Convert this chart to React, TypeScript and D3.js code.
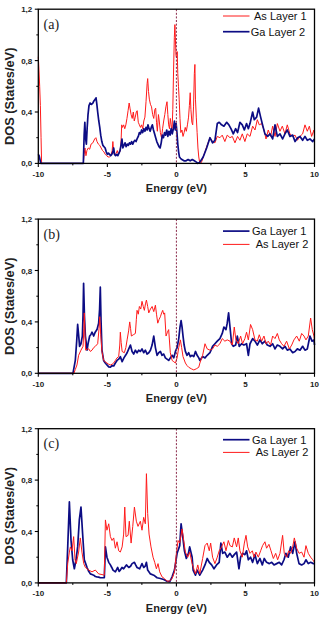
import React from "react";
import * as d3 from "d3";

type Pt = [number, number];

// ---- Panel (a) ----
const aAsLayer1: Pt[] = [
  [-10,0.83],[-9.96,0.75],[-9.9,0.6],[-9.85,0.45],[-9.8,0.2],[-9.76,0],[-6.74,0],[-6.68,0.07],[-6.62,0.12],[-6.55,0.06],[-6.48,0.1],[-6.38,0.12],[-6.28,0.11],[-6.18,0.15],[-6.05,0.16],[-5.92,0.19],[-5.83,0.2],[-5.75,0.17],[-5.65,0.15],[-5.55,0.14],[-5.45,0.12],[-5.35,0.1],[-5.25,0.09],[-5.15,0.07],[-5.05,0.06],[-4.95,0.05],[-4.85,0.05],[-4.75,0.06],[-4.65,0.1],[-4.6,0.17],[-4.54,0.08],[-4.45,0.07],[-4.35,0.08],[-4.28,0.1],[-4.2,0.07],[-4.1,0.09],[-4.02,0.14],[-3.96,0.3],[-3.9,0.28],[-3.82,0.3],[-3.74,0.27],[-3.66,0.3],[-3.58,0.35],[-3.5,0.41],[-3.42,0.47],[-3.36,0.43],[-3.28,0.38],[-3.2,0.35],[-3.12,0.4],[-3.05,0.33],[-2.98,0.36],[-2.9,0.4],[-2.84,0.41],[-2.76,0.32],[-2.68,0.3],[-2.6,0.28],[-2.52,0.3],[-2.44,0.27],[-2.36,0.33],[-2.28,0.36],[-2.2,0.48],[-2.12,0.62],[-2.08,0.66],[-2.02,0.56],[-1.96,0.5],[-1.88,0.46],[-1.8,0.44],[-1.72,0.38],[-1.64,0.35],[-1.56,0.42],[-1.5,0.43],[-1.44,0.32],[-1.38,0.25],[-1.3,0.38],[-1.24,0.33],[-1.16,0.24],[-1.08,0.2],[-1.0,0.27],[-0.92,0.33],[-0.84,0.38],[-0.76,0.44],[-0.68,0.48],[-0.62,0.38],[-0.56,0.3],[-0.5,0.27],[-0.44,0.35],[-0.38,0.3],[-0.32,0.24],[-0.26,0.42],[-0.2,0.75],[-0.15,0.98],[-0.11,1.08],[-0.07,0.96],[-0.03,0.84],[0.02,0.82],[0.06,0.87],[0.1,0.7],[0.15,0.6],[0.2,0.5],[0.26,0.35],[0.32,0.24],[0.4,0.26],[0.48,0.21],[0.56,0.24],[0.64,0.28],[0.72,0.25],[0.8,0.3],[0.88,0.36],[0.94,0.45],[1.0,0.55],[1.05,0.42],[1.12,0.32],[1.18,0.3],[1.24,0.44],[1.3,0.7],[1.34,0.77],[1.38,0.5],[1.44,0.36],[1.5,0.24],[1.56,0.12],[1.62,0.05],[1.68,0.01],[1.76,0.0],[1.86,0.02],[1.94,0.05],[2.07,0.09],[2.19,0.13],[2.43,0.2],[2.62,0.17],[2.79,0.16],[2.96,0.21],[3.15,0.2],[3.32,0.22],[3.51,0.17],[3.68,0.22],[3.88,0.2],[4.05,0.21],[4.24,0.16],[4.43,0.21],[4.6,0.18],[4.77,0.23],[4.96,0.17],[5.13,0.23],[5.33,0.21],[5.52,0.29],[5.69,0.26],[5.86,0.34],[6.0,0.3],[6.17,0.31],[6.34,0.26],[6.49,0.19],[6.65,0.26],[6.82,0.21],[6.97,0.29],[7.14,0.21],[7.31,0.31],[7.5,0.25],[7.67,0.29],[7.86,0.23],[8.03,0.3],[8.22,0.23],[8.42,0.21],[8.59,0.22],[8.76,0.18],[8.95,0.21],[9.14,0.23],[9.31,0.3],[9.48,0.25],[9.63,0.29],[9.79,0.21],[9.96,0.26],[10,0.21],
];
const aGaLayer2: Pt[] = [
  [-10,0.07],[-9.94,0.06],[-9.88,0.03],[-9.82,0.0],[-6.74,0],[-6.68,0.22],[-6.63,0.32],[-6.58,0.2],[-6.52,0.15],[-6.46,0.28],[-6.4,0.38],[-6.33,0.45],[-6.25,0.47],[-6.15,0.46],[-6.05,0.47],[-5.95,0.49],[-5.87,0.5],[-5.82,0.51],[-5.76,0.46],[-5.7,0.4],[-5.62,0.33],[-5.55,0.28],[-5.48,0.22],[-5.4,0.17],[-5.32,0.14],[-5.24,0.13],[-5.16,0.12],[-5.08,0.09],[-5.0,0.07],[-4.92,0.08],[-4.84,0.07],[-4.76,0.06],[-4.68,0.07],[-4.6,0.09],[-4.54,0.12],[-4.48,0.07],[-4.4,0.06],[-4.32,0.07],[-4.24,0.06],[-4.16,0.08],[-4.08,0.1],[-4.0,0.15],[-3.94,0.19],[-3.88,0.12],[-3.8,0.14],[-3.72,0.16],[-3.64,0.13],[-3.56,0.15],[-3.48,0.14],[-3.4,0.16],[-3.32,0.15],[-3.24,0.17],[-3.16,0.15],[-3.08,0.17],[-3.0,0.18],[-2.92,0.17],[-2.85,0.19],[-2.76,0.21],[-2.68,0.24],[-2.6,0.23],[-2.52,0.26],[-2.44,0.24],[-2.36,0.27],[-2.28,0.25],[-2.2,0.28],[-2.12,0.26],[-2.06,0.3],[-1.98,0.27],[-1.9,0.25],[-1.82,0.28],[-1.74,0.3],[-1.66,0.26],[-1.58,0.23],[-1.5,0.2],[-1.42,0.17],[-1.34,0.15],[-1.26,0.13],[-1.18,0.12],[-1.1,0.16],[-1.02,0.22],[-0.94,0.2],[-0.86,0.24],[-0.78,0.22],[-0.7,0.26],[-0.62,0.21],[-0.54,0.25],[-0.46,0.22],[-0.38,0.27],[-0.3,0.23],[-0.22,0.27],[-0.14,0.33],[-0.08,0.26],[-0.02,0.31],[0.04,0.24],[0.1,0.15],[0.16,0.09],[0.22,0.05],[0.3,0.04],[0.4,0.03],[0.55,0.02],[0.7,0.02],[0.85,0.03],[1.0,0.02],[1.15,0.03],[1.3,0.02],[1.45,0.01],[1.55,0.0],[1.7,0.01],[1.94,0.05],[2.19,0.12],[2.43,0.2],[2.62,0.16],[2.79,0.18],[2.96,0.31],[3.1,0.32],[3.27,0.3],[3.44,0.29],[3.64,0.32],[3.8,0.3],[3.95,0.27],[4.12,0.23],[4.29,0.27],[4.43,0.24],[4.6,0.32],[4.77,0.3],[4.92,0.26],[5.08,0.31],[5.21,0.27],[5.33,0.31],[5.52,0.4],[5.64,0.34],[5.81,0.36],[5.95,0.43],[6.1,0.36],[6.24,0.3],[6.41,0.23],[6.61,0.21],[6.78,0.23],[6.97,0.19],[7.14,0.3],[7.31,0.21],[7.5,0.23],[7.69,0.19],[7.86,0.23],[8.03,0.26],[8.22,0.21],[8.42,0.22],[8.59,0.17],[8.78,0.2],[8.95,0.21],[9.14,0.18],[9.31,0.21],[9.48,0.18],[9.67,0.19],[9.87,0.17],[10,0.19],
];

// ---- Panel (b) ----
const bGaLayer1: Pt[] = [
  [-10,0],[-7.49,0],[-7.32,0.1],[-7.22,0.25],[-7.15,0.38],[-7.08,0.3],[-7.01,0.21],[-6.91,0.23],[-6.81,0.29],[-6.76,0.45],[-6.72,0.7],[-6.66,0.45],[-6.59,0.29],[-6.47,0.18],[-6.38,0.24],[-6.28,0.29],[-6.2,0.3],[-6.11,0.32],[-5.99,0.29],[-5.88,0.32],[-5.75,0.34],[-5.63,0.39],[-5.56,0.5],[-5.51,0.67],[-5.46,0.42],[-5.39,0.18],[-5.27,0.1],[-5.15,0.08],[-5.03,0.065],[-4.9,0.05],[-4.78,0.047],[-4.66,0.06],[-4.54,0.057],[-4.42,0.08],[-4.3,0.1],[-4.18,0.11],[-4.06,0.13],[-3.93,0.09],[-3.8,0.12],[-3.68,0.14],[-3.57,0.16],[-3.45,0.19],[-3.33,0.22],[-3.21,0.17],[-3.09,0.15],[-2.97,0.18],[-2.85,0.16],[-2.73,0.18],[-2.61,0.17],[-2.49,0.19],[-2.37,0.16],[-2.25,0.18],[-2.12,0.15],[-2.0,0.16],[-1.88,0.18],[-1.76,0.22],[-1.64,0.29],[-1.52,0.2],[-1.4,0.14],[-1.28,0.16],[-1.16,0.17],[-1.04,0.14],[-0.92,0.15],[-0.8,0.12],[-0.68,0.11],[-0.56,0.1],[-0.44,0.12],[-0.31,0.14],[-0.19,0.12],[-0.07,0.17],[0.05,0.2],[0.17,0.27],[0.26,0.36],[0.34,0.41],[0.41,0.36],[0.48,0.29],[0.56,0.22],[0.65,0.17],[0.77,0.14],[0.89,0.16],[1.01,0.13],[1.14,0.14],[1.26,0.13],[1.38,0.17],[1.5,0.14],[1.62,0.12],[1.7,0.1],[1.9,0.13],[2.07,0.12],[2.23,0.14],[2.43,0.16],[2.62,0.21],[2.79,0.23],[2.96,0.25],[3.15,0.27],[3.32,0.31],[3.44,0.36],[3.59,0.34],[3.68,0.39],[3.78,0.47],[3.88,0.36],[4.0,0.23],[4.12,0.21],[4.29,0.22],[4.41,0.29],[4.55,0.21],[4.72,0.23],[4.89,0.22],[5.08,0.23],[5.21,0.14],[5.33,0.23],[5.52,0.27],[5.69,0.25],[5.86,0.22],[6.05,0.26],[6.22,0.23],[6.41,0.25],[6.58,0.22],[6.78,0.21],[6.97,0.23],[7.14,0.19],[7.31,0.22],[7.5,0.21],[7.69,0.19],[7.86,0.21],[8.03,0.18],[8.22,0.19],[8.42,0.16],[8.59,0.17],[8.76,0.19],[8.95,0.18],[9.14,0.21],[9.31,0.18],[9.48,0.19],[9.67,0.29],[9.82,0.25],[9.96,0.26],[10,0.22],
];
const bAsLayer2: Pt[] = [
  [-10,0],[-7.42,0],[-7.32,0.03],[-7.2,0.065],[-7.08,0.14],[-6.91,0.18],[-6.76,0.21],[-6.7,0.35],[-6.67,0.47],[-6.62,0.3],[-6.57,0.18],[-6.46,0.19],[-6.35,0.19],[-6.23,0.17],[-6.11,0.18],[-5.99,0.2],[-5.87,0.21],[-5.7,0.23],[-5.6,0.35],[-5.55,0.44],[-5.48,0.3],[-5.39,0.17],[-5.27,0.1],[-5.15,0.09],[-5.03,0.08],[-4.9,0.07],[-4.78,0.065],[-4.66,0.07],[-4.54,0.08],[-4.42,0.1],[-4.3,0.12],[-4.18,0.13],[-4.1,0.22],[-4.06,0.32],[-4.0,0.24],[-3.93,0.17],[-3.77,0.16],[-3.66,0.2],[-3.57,0.26],[-3.46,0.33],[-3.38,0.4],[-3.32,0.35],[-3.26,0.29],[-3.12,0.3],[-2.97,0.31],[-2.9,0.42],[-2.85,0.49],[-2.76,0.46],[-2.68,0.52],[-2.58,0.5],[-2.49,0.56],[-2.4,0.52],[-2.32,0.49],[-2.24,0.54],[-2.17,0.57],[-2.08,0.52],[-2.0,0.47],[-1.88,0.5],[-1.76,0.52],[-1.64,0.48],[-1.52,0.53],[-1.44,0.46],[-1.35,0.39],[-1.25,0.42],[-1.16,0.44],[-1.07,0.47],[-0.99,0.49],[-0.92,0.46],[-0.85,0.47],[-0.75,0.29],[-0.65,0.32],[-0.56,0.34],[-0.44,0.16],[-0.31,0.1],[-0.19,0.09],[-0.07,0.08],[0.05,0.12],[0.17,0.2],[0.29,0.26],[0.38,0.2],[0.48,0.13],[0.65,0.08],[0.77,0.06],[0.89,0.047],[1.08,0.035],[1.26,0.026],[1.44,0.035],[1.62,0.047],[1.7,0.08],[1.9,0.14],[2.07,0.23],[2.23,0.19],[2.43,0.18],[2.62,0.19],[2.79,0.22],[2.96,0.21],[3.15,0.23],[3.32,0.27],[3.51,0.25],[3.68,0.26],[3.88,0.25],[4.05,0.22],[4.19,0.36],[4.31,0.26],[4.48,0.23],[4.65,0.29],[4.79,0.23],[4.96,0.27],[5.08,0.32],[5.21,0.26],[5.37,0.38],[5.52,0.34],[5.69,0.26],[5.86,0.25],[6.0,0.3],[6.17,0.25],[6.34,0.29],[6.49,0.23],[6.65,0.25],[6.82,0.22],[6.97,0.29],[7.14,0.27],[7.31,0.31],[7.45,0.26],[7.62,0.23],[7.79,0.21],[7.98,0.25],[8.18,0.19],[8.35,0.22],[8.51,0.26],[8.71,0.29],[8.9,0.25],[9.07,0.31],[9.24,0.29],[9.38,0.26],[9.55,0.29],[9.72,0.43],[9.84,0.34],[9.96,0.29],[10,0.25],
];

// ---- Panel (c) ----
const cGaLayer1: Pt[] = [
  [-10,0],[-7.97,0],[-7.87,0.28],[-7.75,0.63],[-7.63,0.33],[-7.51,0.18],[-7.39,0.11],[-7.27,0.18],[-7.15,0.28],[-7.03,0.49],[-6.91,0.59],[-6.79,0.38],[-6.67,0.18],[-6.57,0.15],[-6.47,0.12],[-6.35,0.09],[-6.23,0.07],[-6.11,0.065],[-5.99,0.06],[-5.87,0.05],[-5.75,0.047],[-5.63,0.045],[-5.51,0.04],[-5.36,0.04],[-5.22,0.04],[-5.14,0.28],[-5.03,0.2],[-4.9,0.16],[-4.78,0.14],[-4.68,0.12],[-4.59,0.1],[-4.42,0.086],[-4.25,0.12],[-4.15,0.09],[-4.06,0.1],[-3.94,0.12],[-3.82,0.11],[-3.62,0.14],[-3.45,0.12],[-3.32,0.13],[-3.21,0.15],[-3.04,0.16],[-2.95,0.14],[-2.85,0.12],[-2.66,0.11],[-2.49,0.15],[-2.37,0.12],[-2.26,0.13],[-2.17,0.16],[-2.08,0.1],[-1.88,0.07],[-1.64,0.06],[-1.4,0.04],[-1.16,0.034],[-0.92,0.026],[-0.68,0.013],[-0.48,0.01],[-0.31,0.047],[-0.14,0.1],[0.05,0.23],[0.24,0.29],[0.34,0.46],[0.46,0.36],[0.58,0.25],[0.72,0.19],[0.87,0.23],[0.96,0.28],[1.14,0.2],[1.21,0.1],[1.38,0.06],[1.5,0.1],[1.69,0.06],[1.9,0.1],[2.07,0.14],[2.23,0.19],[2.38,0.16],[2.55,0.14],[2.72,0.11],[2.91,0.14],[3.1,0.16],[3.22,0.31],[3.35,0.23],[3.51,0.24],[3.68,0.2],[3.88,0.23],[4.05,0.2],[4.19,0.22],[4.36,0.24],[4.53,0.11],[4.65,0.2],[4.79,0.23],[4.96,0.22],[5.08,0.25],[5.21,0.18],[5.37,0.2],[5.52,0.16],[5.69,0.22],[5.86,0.15],[6.05,0.19],[6.22,0.14],[6.36,0.19],[6.53,0.16],[6.73,0.15],[6.9,0.16],[7.07,0.14],[7.26,0.15],[7.45,0.16],[7.62,0.14],[7.79,0.18],[7.93,0.23],[8.1,0.2],[8.27,0.28],[8.42,0.23],[8.59,0.32],[8.71,0.23],[8.88,0.15],[9.07,0.14],[9.24,0.15],[9.38,0.18],[9.55,0.15],[9.72,0.16],[9.92,0.15],[10,0.15],
];
const cAsLayer2: Pt[] = [
  [-10,0],[-7.97,0],[-7.87,0.15],[-7.75,0.24],[-7.68,0.28],[-7.56,0.25],[-7.44,0.36],[-7.34,0.18],[-7.25,0.15],[-7.08,0.24],[-6.96,0.35],[-6.84,0.24],[-6.71,0.15],[-6.59,0.12],[-6.35,0.1],[-6.11,0.086],[-5.87,0.1],[-5.63,0.07],[-5.39,0.065],[-5.22,0.06],[-5.14,0.49],[-5.03,0.41],[-4.9,0.46],[-4.78,0.36],[-4.66,0.33],[-4.54,0.35],[-4.42,0.27],[-4.3,0.32],[-4.18,0.25],[-4.06,0.24],[-3.93,0.28],[-3.82,0.38],[-3.74,0.59],[-3.65,0.36],[-3.5,0.37],[-3.41,0.48],[-3.28,0.31],[-3.16,0.44],[-3.04,0.59],[-2.9,0.48],[-2.78,0.44],[-2.61,0.48],[-2.49,0.41],[-2.37,0.51],[-2.25,0.46],[-2.17,0.85],[-2.08,0.54],[-1.98,0.38],[-1.84,0.28],[-1.69,0.2],[-1.57,0.16],[-1.45,0.11],[-1.33,0.15],[-1.21,0.086],[-1.04,0.047],[-0.87,0.034],[-0.68,0.013],[-0.48,0.016],[-0.31,0.034],[-0.14,0.086],[0.0,0.23],[0.12,0.33],[0.24,0.31],[0.41,0.42],[0.53,0.33],[0.65,0.24],[0.82,0.2],[0.96,0.24],[1.14,0.15],[1.26,0.11],[1.38,0.07],[1.55,0.14],[1.69,0.07],[1.9,0.19],[2.07,0.29],[2.23,0.31],[2.38,0.25],[2.48,0.31],[2.62,0.2],[2.79,0.15],[2.96,0.2],[3.1,0.25],[3.27,0.28],[3.44,0.32],[3.59,0.25],[3.76,0.33],[3.88,0.29],[4.05,0.28],[4.19,0.35],[4.36,0.28],[4.48,0.35],[4.6,0.25],[4.77,0.2],[4.92,0.31],[5.04,0.37],[5.16,0.28],[5.33,0.23],[5.5,0.25],[5.62,0.2],[5.76,0.24],[5.93,0.2],[6.1,0.25],[6.24,0.29],[6.41,0.32],[6.53,0.27],[6.7,0.3],[6.85,0.25],[7.02,0.19],[7.19,0.23],[7.33,0.18],[7.5,0.23],[7.69,0.37],[7.81,0.23],[7.98,0.2],[8.13,0.25],[8.27,0.23],[8.42,0.28],[8.54,0.35],[8.71,0.27],[8.88,0.23],[9.07,0.24],[9.24,0.2],[9.38,0.29],[9.55,0.23],[9.72,0.2],[9.87,0.18],[10,0.16],
];

const xTicks = [-10, -5, 0, 5, 10];
const xMinorTicks = [-7.5, -2.5, 2.5, 7.5];
const yTicks = [0, 0.4, 0.8, 1.2];
const yMinorTicks = [0.2, 0.6, 1.0];
const yTickLabels = ["0,0", "0,4", "0,8", "1,2"];

const RED = "#ff1a1a";
const BLUE = "#0c0c84";

type Series = { name: string; data: Pt[]; color: string; width: number };
type LegendItem = { name: string; color: string; dy: number; tx: number };

const PLOT_LEFT = 38.3;
const PLOT_RIGHT = 314.5;
const PLOT_H = 154.2;

function Panel({ top, label, series, legend }: { top: number; label: string; series: Series[]; legend: LegendItem[] }) {
  const x = d3.scaleLinear().domain([-10, 10]).range([PLOT_LEFT, PLOT_RIGHT]);
  const bottom = top + PLOT_H;
  const y = d3.scaleLinear().domain([0, 1.2]).range([bottom, top]);
  const line = d3
    .line<Pt>()
    .x((d) => x(d[0]))
    .y((d) => y(d[1]));
  const font = "'Liberation Sans', Arial, sans-serif";
  return (
    <g>
      {series.map((s) => (
        <path key={s.name} d={line(s.data) || ""} fill="none" stroke={s.color} strokeWidth={s.width} strokeLinejoin="round" />
      ))}
      <line x1={x(0)} x2={x(0)} y1={top} y2={bottom} stroke="#8a2a4a" strokeWidth={1} strokeDasharray="2,1.6" />
      <rect x={PLOT_LEFT} y={top} width={PLOT_RIGHT - PLOT_LEFT} height={PLOT_H} fill="none" stroke="#000" strokeWidth={1.3} />
      {xTicks.map((t) => (
        <g key={"xt" + t}>
          <line x1={x(t)} x2={x(t)} y1={bottom} y2={bottom + 3.5} stroke="#000" strokeWidth={1.1} />
          <text x={x(t)} y={bottom + 13.5} textAnchor="middle" fontFamily={font} fontWeight="bold" fontSize={8} fill="#222">
            {t}
          </text>
        </g>
      ))}
      {xMinorTicks.map((t) => (
        <line key={"xm" + t} x1={x(t)} x2={x(t)} y1={bottom} y2={bottom + 2} stroke="#000" strokeWidth={1} />
      ))}
      {yTicks.map((t, i) => (
        <g key={"yt" + t}>
          <line x1={PLOT_LEFT - 3.5} x2={PLOT_LEFT} y1={y(t)} y2={y(t)} stroke="#000" strokeWidth={1.1} />
          <text x={PLOT_LEFT - 6} y={y(t) + 3} textAnchor="end" fontFamily={font} fontWeight="bold" fontSize={8} fill="#222">
            {yTickLabels[i]}
          </text>
        </g>
      ))}
      {yMinorTicks.map((t) => (
        <line key={"ym" + t} x1={PLOT_LEFT - 2} x2={PLOT_LEFT} y1={y(t)} y2={y(t)} stroke="#000" strokeWidth={1} />
      ))}
      <text x={176.4} y={bottom + 29} textAnchor="middle" fontFamily={font} fontWeight="bold" fontSize={11} fill="#222">
        Energy (eV)
      </text>
      <text
        transform={`translate(13.8,${top + PLOT_H / 2 + 10}) rotate(-90)`}
        textAnchor="middle"
        fontFamily={font}
        fontWeight="bold"
        fontSize={12.8}
        fill="#222"
      >
        DOS (States/eV)
      </text>
      <text x={43.5} y={top + 19.5} fontFamily="'Liberation Serif', 'Times New Roman', serif" fontSize={14} fill="#222">
        {label}
      </text>
      {legend.map((l) => (
        <g key={l.name}>
          <line x1={223} x2={249.5} y1={top + l.dy} y2={top + l.dy} stroke={l.color} strokeWidth={l.color === BLUE ? 1.7 : 1} />
          <text x={l.tx} y={top + l.dy + 4} fontFamily={font} fontSize={11} fill="#111">
            {l.name}
          </text>
        </g>
      ))}
    </g>
  );
}

export default function App() {
  return (
    <svg width={324} height={618} style={{ position: "absolute", left: 0, top: 0, background: "#fff" }}>
      <rect width={324} height={618} fill="#fff" />
      <Panel
        top={9.2}
        label="(a)"
        series={[
          { name: "As Layer 1", data: aAsLayer1, color: RED, width: 1 },
          { name: "Ga Layer 2", data: aGaLayer2, color: BLUE, width: 1.7 },
        ]}
        legend={[
          { name: "As Layer 1", color: RED, dy: 6.8, tx: 254 },
          { name: "Ga Layer 2", color: BLUE, dy: 22.5, tx: 250.7 },
        ]}
      />
      <Panel
        top={219.1}
        label="(b)"
        series={[
          { name: "Ga Layer 1", data: bGaLayer1, color: BLUE, width: 1.7 },
          { name: "As Layer 2", data: bAsLayer2, color: RED, width: 1 },
        ]}
        legend={[
          { name: "Ga Layer 1", color: BLUE, dy: 12, tx: 252 },
          { name: "As Layer 2", color: RED, dy: 25.3, tx: 255.7 },
        ]}
      />
      <Panel
        top={428.7}
        label="(c)"
        series={[
          { name: "Ga Layer 1", data: cGaLayer1, color: BLUE, width: 1.7 },
          { name: "As Layer 2", data: cAsLayer2, color: RED, width: 1 },
        ]}
        legend={[
          { name: "Ga Layer 1", color: BLUE, dy: 11, tx: 252 },
          { name: "As Layer 2", color: RED, dy: 23.7, tx: 255.7 },
        ]}
      />
    </svg>
  );
}
